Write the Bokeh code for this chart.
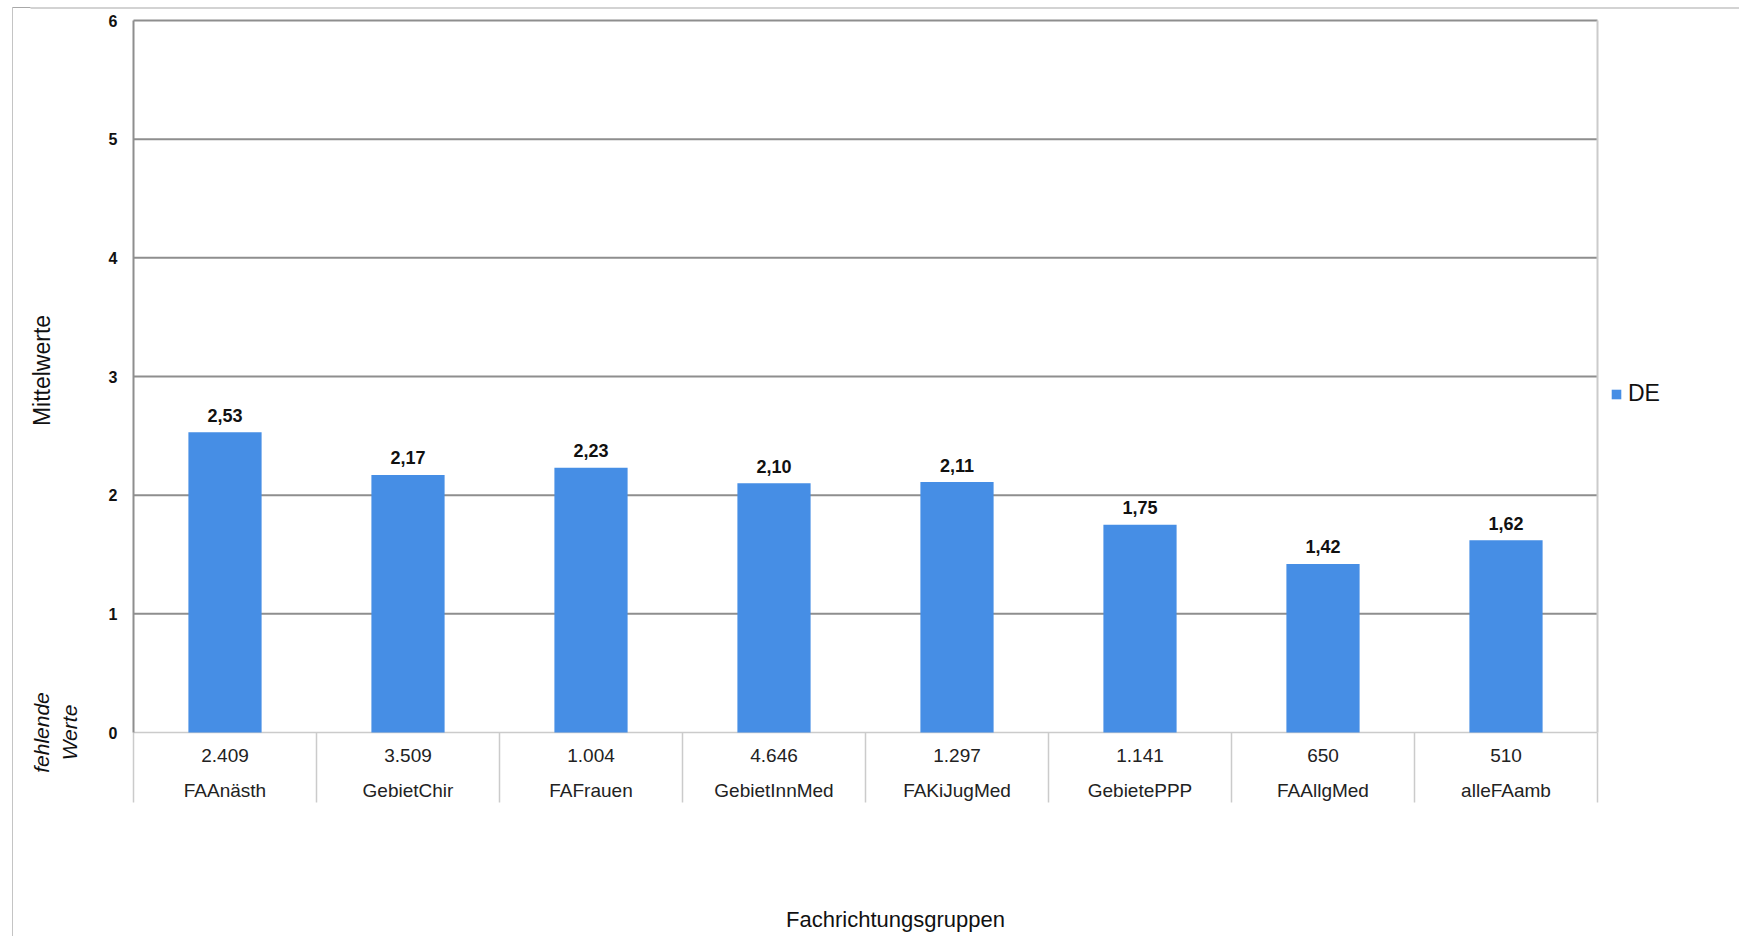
from bokeh.plotting import figure
from bokeh.models import (Range1d, FixedTicker, LinearAxis, Label, Legend, LegendItem,
                          ColumnDataSource)
from bokeh.core.properties import value
from bokeh.embed import file_html
from bokeh.resources import INLINE

# ---- data ----
categories = ["FAAnästh", "GebietChir", "FAFrauen", "GebietInnMed",
              "FAKiJugMed", "GebietePPP", "FAAllgMed", "alleFAamb"]
means = [2.53, 2.17, 2.23, 2.10, 2.11, 1.75, 1.42, 1.62]
missing = [2409, 3509, 1004, 4646, 1297, 1141, 650, 510]
y_ticks = [0, 1, 2, 3, 4, 5, 6]
series_name = "DE"
x_title = "Fachrichtungsgruppen"
y_title = "Mittelwerte"
missing_title = "fehlende\nWerte"

FONT = "Liberation Sans"
BAR = "#468ee5"
DARK = "#8e8e8e"
LIGHT = "#cbcbcb"
TXT = "#111111"

# ---- layout geometry (pixels) ----
W, H = 1739, 936
FL = 30                       # frame left (space for the y axis panel)
PL, PR, PT, PB = 133, 1597, 20, 732   # plot area: x of 0 / x of n, y of 6 / y of 0
TABLE_BOTTOM = 802
n = len(categories)
sx = (PR - PL) / n
sy = (PB - PT) / 6.0

def dx(px):
    return (px - PL) / sx

def dy(py):
    return (PB - py) / sy

p = figure(width=W, height=H, x_range=Range1d(dx(FL), dx(W)),
           y_range=Range1d(dy(H), dy(0)), output_backend="svg",
           toolbar_location=None, min_border_left=FL, min_border_right=0,
           min_border_top=0, min_border_bottom=0, y_axis_location=None)
p.outline_line_color = None
p.background_fill_color = "white"
p.border_fill_alpha = 0
p.xaxis.visible = False
p.grid.visible = False
# outer chart frame corner (drawn by the page behind the transparent border)
p.styles = {"background-color": "white",
            "background-image": "linear-gradient(#c4c4c4, #c4c4c4), "
                                "linear-gradient(#a8a8a8, #a8a8a8)",
            "background-repeat": "no-repeat, no-repeat",
            "background-position": "12px 7px, 12px 7px",
            "background-size": "1px 100%, 40px 1px"}

xc = [i + 0.5 for i in range(n)]
src = ColumnDataSource(dict(
    x=xc, cat=categories, mean=means,
    mean_lbl=[("%.2f" % v).replace(".", ",") for v in means],
    miss_lbl=["{:,}".format(v).replace(",", ".") for v in missing],
))

# outer chart frame, top edge
p.segment(x0=[dx(12)], y0=[dy(7.5)], x1=[dx(W + 20)], y1=[dy(7.5)],
          line_color="#a8a8a8", line_width=1.2)

# grid lines (1..6) and light zero line / table separators
p.segment(x0=[0] * (len(y_ticks) - 1), y0=y_ticks[1:], x1=[n] * (len(y_ticks) - 1),
          y1=y_ticks[1:], line_color=DARK, line_width=2)
bx = list(range(n + 1))
p.segment(x0=bx, y0=[dy(TABLE_BOTTOM)] * (n + 1), x1=bx, y1=[0] * (n + 1),
          line_color=LIGHT, line_width=1.5)
p.segment(x0=[0], y0=[0], x1=[n], y1=[0], line_color=LIGHT, line_width=1.5)
p.segment(x0=[n], y0=[0], x1=[n], y1=[6], line_color=LIGHT, line_width=2)

bars = p.vbar(x="x", top="mean", bottom=0, width=0.4, source=src,
              fill_color=BAR, line_color=None)

# y axis fixed at the plot area's left edge
ya = LinearAxis(fixed_location=0, bounds=(0, 6), ticker=FixedTicker(ticks=y_ticks))
ya.axis_line_color = DARK
ya.axis_line_width = 2
ya.major_tick_line_color = None
ya.minor_tick_line_color = None
ya.major_tick_out = 0
ya.major_tick_in = 0
ya.major_label_standoff = 16
ya.major_label_text_font = FONT
ya.major_label_text_font_style = "bold"
ya.major_label_text_font_size = "16px"
ya.major_label_text_color = TXT
p.add_layout(ya, "left")

# value labels
p.text(x="x", y="mean", text="mean_lbl", source=src, y_offset=-17,
       text_align="center", text_baseline="alphabetic",
       text_font=value(FONT), text_font_style="bold", text_font_size="18px",
       text_color=TXT)

# table rows below the axis
p.text(x="x", y=dy(755), text="miss_lbl", source=src,
       text_align="center", text_baseline="middle",
       text_font=value(FONT), text_font_size="19px", text_color="#222222")
p.text(x="x", y=dy(790), text="cat", source=src,
       text_align="center", text_baseline="middle",
       text_font=value(FONT), text_font_size="19px", text_color="#222222")

# titles
p.add_layout(Label(x=dx(41), y=dy(370), text=y_title, angle=1.5707963,
                   text_align="center", text_baseline="middle", text_font=FONT,
                   text_font_size="23px", text_color=TXT))
p.add_layout(Label(x=dx(55), y=0, text=missing_title, angle=1.5707963,
                   text_align="center", text_baseline="middle", text_font=FONT,
                   text_font_size="21px", text_font_style="italic",
                   text_color=TXT, text_line_height=1.2))
p.add_layout(Label(x=dx(895), y=dy(919), text=x_title, text_align="center",
                   text_baseline="middle", text_font=FONT, text_font_size="22px",
                   text_color=TXT))

# legend
legend = Legend(items=[LegendItem(label=series_name, renderers=[bars])],
                location=(1610 - FL, H - 407), padding=0, margin=0,
                border_line_color=None, background_fill_alpha=0,
                glyph_width=12, glyph_height=12, label_standoff=6,
                label_text_font=FONT, label_text_font_size="23px",
                label_text_color=TXT)
p.add_layout(legend)

open("out.html", "w").write(file_html(p, INLINE))
